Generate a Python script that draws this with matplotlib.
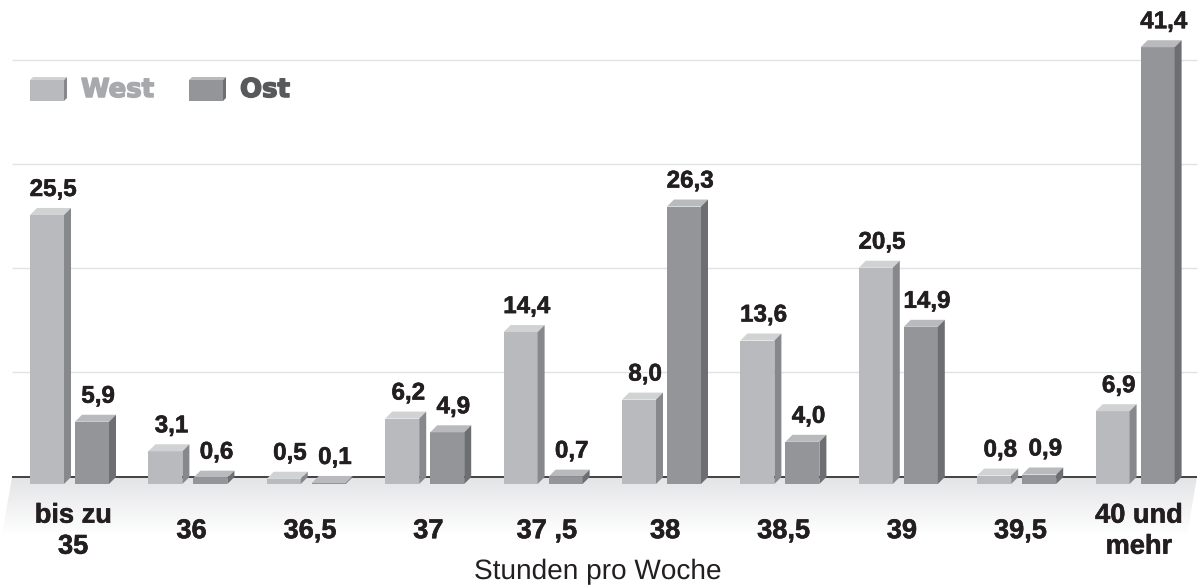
import numpy as np
import matplotlib
matplotlib.use("Agg")
import matplotlib.pyplot as plt
import matplotlib.patheffects as pe
from matplotlib.patches import Polygon

plt.rcParams["text.hinting"] = "no_hinting"
plt.rcParams["text.hinting_factor"] = 1

categories = ["bis zu\n35", "36", "36,5", "37", "37 ,5", "38", "38,5", "39", "39,5", "40 und\nmehr"]
west = [25.5, 3.1, 0.5, 6.2, 14.4, 8.0, 13.6, 20.5, 0.8, 6.9]
ost = [5.9, 0.6, 0.1, 4.9, 0.7, 26.3, 4.0, 14.9, 0.9, 41.4]
series_names = ["West", "Ost"]
x_title = "Stunden pro Woche"

W, H = 1198, 587
BASE = 484.0
PX_PER_UNIT = 10.55
PX_PER_GROUP = 118.4
X0 = 30.0
BAR_W = 34.0
BAR_STEP = 45.0
DEPTH = 7.0
TXT = "#231f20"
STYLES = [
    dict(front="#b9babd", top="#d1d2d4", side="#87888b"),
    dict(front="#939598", top="#b9babd", side="#6d6e71"),
]
SANS = ["Liberation Sans", "DejaVu Sans"]

fig = plt.figure(figsize=(W / 100, H / 100), dpi=100, facecolor="white")

# background layer in pixel coordinates: floor, rules, legend
bg = fig.add_axes([0, 0, 1, 1], zorder=0)
bg.set_xlim(0, W)
bg.set_ylim(H, 0)
bg.axis("off")

grad = np.linspace(0, 1, 256).reshape(-1, 1)
floor_top, floor_bot = np.array(matplotlib.colors.to_rgb("#e3e4e6")), np.ones(3)
img = (floor_top * (1 - grad[..., None]) + floor_bot * grad[..., None])
im = bg.imshow(img, extent=(0, W, 535, 477), aspect="auto", zorder=1)
clip = Polygon([(12, 477), (1197, 477), (1187, 535), (2, 535)], transform=bg.transData,
               fc="none", ec="none")
bg.add_patch(clip)
im.set_clip_path(clip)
bg.set_xlim(0, W)
bg.set_ylim(H, 0)

bg.hlines([60, 164, 268, 372], 12, 1197, color="#e1e2e3", lw=1.0, zorder=2)
bg.hlines(477, 12, 1197, color="#414042", lw=1.4, zorder=2)


def legend_key(x, y, s):
    w, h, d = 34, 21, 3
    bg.add_patch(Polygon([(x, y), (x + w, y), (x + w, y + h), (x, y + h)], fc=s["front"], ec="none", zorder=3))
    bg.add_patch(Polygon([(x, y), (x + d, y - d), (x + w + d, y - d), (x + w, y)], fc=s["top"], ec="none", zorder=3))
    bg.add_patch(Polygon([(x + w, y), (x + w + d, y - d), (x + w + d, y + h - d), (x + w, y + h)], fc=s["side"], ec="none", zorder=3))


legend_key(30, 80, STYLES[0])
legend_key(189, 80, STYLES[1])
for xpos, name, col in ((81, series_names[0], "#a7a9ac"), (240, series_names[1], "#58595b")):
    bg.text(xpos, 97, name, family="DejaVu Sans", weight="bold", fontsize=18.7, color=col, va="baseline",
            path_effects=[pe.withStroke(linewidth=1.1, foreground=col)])

# main axes: y = 0 at the front foot of the bars
ax = fig.add_axes([0, (H - BASE) / H, 1, BASE / H], zorder=1)
ax.patch.set_visible(False)
ax.set_xlim(-X0 / PX_PER_GROUP, (W - X0) / PX_PER_GROUP)
ax.set_ylim(0, BASE / PX_PER_UNIT)
for sp in ax.spines.values():
    sp.set_visible(False)
ax.set_yticks([])

dx = DEPTH / PX_PER_GROUP
dy = DEPTH / PX_PER_UNIT
bw = BAR_W / PX_PER_GROUP
step = BAR_STEP / PX_PER_GROUP
heavy = [pe.withStroke(linewidth=0.4, foreground=TXT)]

idx = np.arange(len(categories))
for k, vals in enumerate((west, ost)):
    s = STYLES[k]
    lefts = idx + k * step
    ax.bar(lefts, vals, width=bw, align="edge", color=s["front"], lw=0, zorder=3)
    for l, v in zip(lefts, vals):
        ax.add_patch(Polygon([(l, v), (l + dx, v + dy), (l + bw + dx, v + dy), (l + bw, v)],
                             fc=s["top"], ec="none", zorder=3, clip_on=False))
        ax.add_patch(Polygon([(l + bw, 0), (l + bw + dx, dy), (l + bw + dx, v + dy), (l + bw, v)],
                             fc=s["side"], ec="none", zorder=3, clip_on=False))
        ax.annotate(f"{v:.1f}".replace(".", ","), (l + bw / 2, v + dy), xytext=(6 * 0.72, 12 * 0.72),
                    textcoords="offset points", ha="center", va="baseline",
                    family=SANS, weight="bold", fontsize=17.4, color=TXT, path_effects=heavy)

ax.set_xticks(idx + 43 / PX_PER_GROUP)
ax.set_xticklabels(categories, family=SANS, weight="bold", fontsize=19.6, color=TXT,
                   linespacing=1.3, va="center", path_effects=heavy)
ax.tick_params(axis="x", length=0, pad=34)
ax.set_xlabel(x_title, family=SANS, fontsize=20, color=TXT)
ax.xaxis.set_label_coords(598 / W, -(579 - BASE) / BASE)
ax.xaxis.label.set_va("baseline")

fig.savefig("out.png", dpi=100, facecolor="white")
